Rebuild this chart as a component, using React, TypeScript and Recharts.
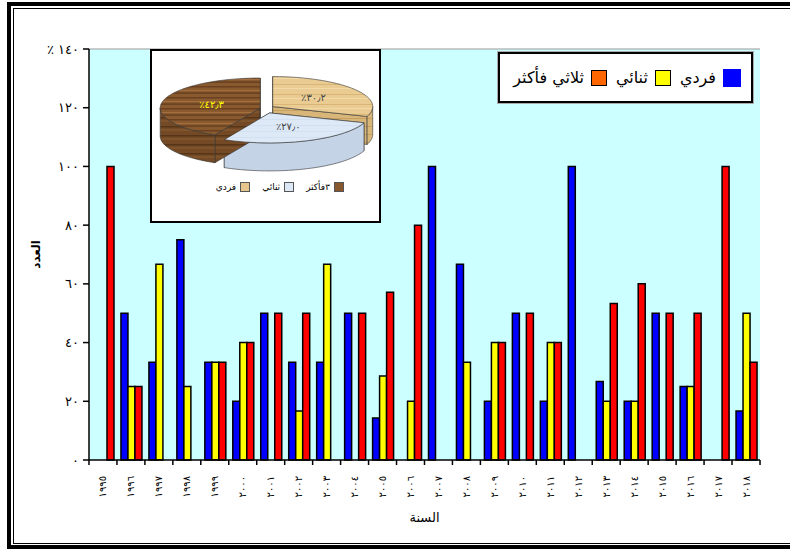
import React from "react";
import { BarChart, Bar, XAxis, YAxis, CartesianGrid, ReferenceLine, PieChart, Pie, Cell } from "recharts";

// years on the x axis
const years = [
  "1995", "1996", "1997", "1998", "1999", "2000", "2001", "2002",
  "2003", "2004", "2005", "2006", "2007", "2008", "2009", "2010",
  "2011", "2012", "2013", "2014", "2015", "2016", "2017", "2018",
];
// % per year
const singleValues = [0, 50, 33.3, 75, 33.3, 20, 50, 33.3, 33.3, 50, 14.3, 0, 100, 66.7, 20, 50, 20, 100, 26.7, 20, 50, 25, 0, 16.7];
const doubleValues = [0, 25, 66.7, 25, 33.3, 40, 0, 16.7, 66.7, 0, 28.6, 20, 0, 33.3, 40, 0, 40, 0, 20, 20, 0, 25, 0, 50];
const tripleValues = [100, 25, 0, 0, 33.3, 40, 50, 50, 0, 50, 57.1, 80, 0, 0, 40, 50, 40, 0, 53.3, 60, 50, 50, 100, 33.3];
const seriesNames = ["فردي", "ثنائي", "ثلاثي فأكثر"];
const yTicks = [0, 20, 40, 60, 80, 100, 120, 140];

// inset pie
const pieNames = ["فردي", "ثنائي", "٣فأكثر"];
const pieShares = [30.2, 27.0, 42.3];

const barColors = ["#0000FF", "#FFFF00", "#FF0000"];
const legendColors = ["#0000FF", "#FFFF00", "#FF6600"];
const pieTopFills = ["url(#woodLight)", "url(#iceTop)", "url(#woodDark)"];
const pieSideFills = ["url(#woodLightSide)", "#C5D3E6", "url(#woodDarkSide)"];
const pieLegendColors = ["#E6C68C", "#DCE8F6", "#875730"];
const pieLabelColors = ["#444444", "#444444", "#FFFF00"];

const FONT = "'DejaVu Sans', sans-serif";
const AR_DIGITS = "٠١٢٣٤٥٦٧٨٩";
const toArabic = (v: number | string) => String(v).replace(/[0-9]/g, (d) => AR_DIGITS[Number(d)]);

const barData = years.map((year, i) => ({
  year,
  single: singleValues[i],
  double: doubleValues[i],
  triple: tripleValues[i],
}));
const pieData = pieNames.map((name, i) => ({ name, value: pieShares[i] }));

// fake 3d pie
const TILT = 0.3;
const DEPTH = 28;
const EXPLODE = 7;
const RAD = Math.PI / 180;

function sliceOrigin(cx: number, cy: number, mid: number) {
  return { ox: cx + EXPLODE * Math.cos(mid * RAD), oy: cy - EXPLODE * 0.6 * Math.sin(mid * RAD) };
}

function rim(ox: number, oy: number, r: number, from: number, to: number, dy = 0) {
  const pts: string[] = [];
  const steps = Math.max(2, Math.ceil(Math.abs(to - from) / 2));
  for (let k = 0; k <= steps; k++) {
    const a = (from + ((to - from) * k) / steps) * RAD;
    pts.push(`${ox + r * Math.cos(a)},${oy - r * TILT * Math.sin(a) + dy}`);
  }
  return pts;
}

function SliceSides(p: any) {
  const mid = (p.startAngle + p.endAngle) / 2;
  const { ox, oy } = sliceOrigin(p.cx, p.cy, mid);
  const r = p.outerRadius;
  const hi = Math.max(p.startAngle, p.endAngle);
  const lo = Math.min(p.startAngle, p.endAngle);
  const faces: any[] = [];
  [hi, lo].forEach((a, k) => {
    const x = ox + r * Math.cos(a * RAD);
    const y = oy - r * TILT * Math.sin(a * RAD);
    faces.push(
      <polygon key={"r" + k} points={`${ox},${oy} ${x},${y} ${x},${y + DEPTH} ${ox},${oy + DEPTH}`}
        fill={p.fill} stroke="#333" strokeWidth={0.6} />
    );
  });
  for (let base = -720; base <= 360; base += 360) {
    const f0 = Math.max(lo, base - 180);
    const f1 = Math.min(hi, base);
    if (f1 > f0) {
      const top = rim(ox, oy, r, f1, f0);
      const bottom = rim(ox, oy, r, f0, f1, DEPTH);
      faces.push(
        <polygon key={"w" + base} points={[...top, ...bottom].join(" ")} fill={p.fill} stroke="#333" strokeWidth={0.6} />
      );
    }
  }
  return <g>{faces}</g>;
}

function SliceTop(p: any) {
  const mid = (p.startAngle + p.endAngle) / 2;
  const { ox, oy } = sliceOrigin(p.cx, p.cy, mid);
  const pts = rim(ox, oy, p.outerRadius, p.startAngle, p.endAngle);
  return <polygon points={[`${ox},${oy}`, ...pts].join(" ")} fill={p.fill} stroke="#333" strokeWidth={0.6} />;
}

function sliceLabel(p: any) {
  const { ox, oy } = sliceOrigin(p.cx, p.cy, p.midAngle);
  const r = p.outerRadius * 0.5;
  const x = ox + r * Math.cos(p.midAngle * RAD);
  const y = oy - r * TILT * Math.sin(p.midAngle * RAD);
  const txt = "٪" + toArabic(Number(p.value).toFixed(1)).replace(".", "٫");
  return (
    <text x={x} y={y} textAnchor="middle" dominantBaseline="central" fontSize={10} fontFamily={FONT}
      fill={pieLabelColors[p.index]}>
      {txt}
    </text>
  );
}

function YearTick(props: any) {
  const { x, y, payload, index } = props;
  const half = 14;
  return (
    <g>
      <line x1={x - half} x2={x - half} y1={y} y2={y + 5} stroke="#000" strokeWidth={1.5} />
      {index === years.length - 1 && <line x1={x + half} x2={x + half} y1={y} y2={y + 5} stroke="#000" strokeWidth={1.5} />}
      <text transform={`translate(${x},${y + 16}) rotate(-90)`} textAnchor="end" dominantBaseline="central"
        fontSize={10} letterSpacing={1.8} fontFamily={FONT} fill="#000">
        {toArabic(payload.value)}
      </text>
    </g>
  );
}

export default function App() {
  return (
    <div style={{ position: "relative", width: 790, height: 549, overflow: "hidden", background: "#fff", fontFamily: FONT }}>
      <style>{`body{margin:0}`}</style>
      <div style={{ position: "absolute", left: 7, top: 2, width: 820, height: 547, border: "4px solid #000", boxSizing: "border-box" }} />
      <div style={{ position: "absolute", left: 13, top: 8, width: 810, height: 536, border: "1px solid #000", boxSizing: "border-box" }} />

      <div style={{ position: "absolute", left: 0, top: 0 }}>
        <BarChart width={790} height={549} data={barData} margin={{ top: 49, right: 30, bottom: 27, left: 0 }}
          barCategoryGap={4} barGap={0}>
          <CartesianGrid fill="#CCFFFF" horizontal={false} vertical={false} />
          <ReferenceLine y={140} stroke="#999" strokeWidth={1} />
          <XAxis dataKey="year" height={62} interval={0} tickLine={false} tickSize={0} tickMargin={0}
            axisLine={{ stroke: "#000", strokeWidth: 1.5 }} tick={<YearTick />}
            label={{ value: "السنة", position: "insideBottom", offset: 0, fontSize: 13, fill: "#000", fontFamily: FONT }} />
          <YAxis width={89} domain={[0, 140]} ticks={yTicks} tickSize={6} tickMargin={4}
            axisLine={{ stroke: "#000", strokeWidth: 1.5 }} tickLine={{ stroke: "#000", strokeWidth: 1.5 }}
            tick={{ fontSize: 13, fill: "#000", fontFamily: FONT }}
            tickFormatter={(v: number) => (v === 140 ? "٪ " : "") + toArabic(v)}
            label={{
              content: ({ viewBox }: any) => (
                <text transform={`translate(${viewBox.x + 36},${viewBox.y + viewBox.height / 2}) rotate(-90)`}
                  textAnchor="middle" dominantBaseline="central" fontSize={12} fontWeight="bold" fontFamily={FONT}>
                  العدد
                </text>
              ),
            }} />
          <YAxis yAxisId="right" orientation="right" width={0} domain={[0, 140]} tick={false} tickLine={false}
            axisLine={{ stroke: "#999", strokeWidth: 1.5 }} />
          <Bar dataKey="single" name={seriesNames[0]} fill={barColors[0]} stroke="#000" strokeWidth={1.5} isAnimationActive={false} />
          <Bar dataKey="double" name={seriesNames[1]} fill={barColors[1]} stroke="#000" strokeWidth={1.5} isAnimationActive={false} />
          <Bar dataKey="triple" name={seriesNames[2]} fill={barColors[2]} stroke="#000" strokeWidth={1.5} isAnimationActive={false} />
        </BarChart>
      </div>

      {/* legend of the bar chart */}
      <div style={{
        position: "absolute", left: 498, top: 52, width: 255, height: 51, background: "#fff",
        border: "2px solid #000", boxShadow: "0 0 0 1px #aaa", boxSizing: "border-box",
        display: "flex", alignItems: "center", direction: "rtl", paddingRight: 10,
      }}>
        {seriesNames.map((name, i) => (
          <div key={name} style={{ display: "flex", alignItems: "center", marginLeft: 9 }}>
            <span style={{
              width: i === 0 ? 18 : 14, height: i === 0 ? 18 : 14, background: legendColors[i],
              border: i === 0 ? "none" : "1.5px solid #000", marginLeft: 7, display: "inline-block",
            }} />
            <span style={{ fontSize: 16, color: "#000", whiteSpace: "nowrap" }}>{name}</span>
          </div>
        ))}
      </div>

      {/* inset pie */}
      <div style={{
        position: "absolute", left: 150, top: 49, width: 231, height: 174, background: "#fff",
        border: "2px solid #000", boxSizing: "border-box",
      }}>
        <PieChart width={227} height={170}>
          <defs>
            <pattern id="woodDark" width="60" height="11" patternUnits="userSpaceOnUse">
              <rect width="60" height="11" fill="#8A5A2F" />
              <rect y="2" width="60" height="1.5" fill="#6A4020" />
              <rect y="6" width="60" height="1" fill="#A46E3E" />
              <rect y="8.5" width="60" height="1.2" fill="#5E391C" />
            </pattern>
            <pattern id="woodDarkSide" width="60" height="9" patternUnits="userSpaceOnUse">
              <rect width="60" height="9" fill="#734A25" />
              <rect y="3" width="60" height="1.5" fill="#573519" />
              <rect y="6.5" width="60" height="1" fill="#8B5C31" />
            </pattern>
            <pattern id="woodLight" width="60" height="10" patternUnits="userSpaceOnUse">
              <rect width="60" height="10" fill="#EACB92" />
              <rect y="3" width="60" height="1" fill="#D9B678" />
              <rect y="7" width="60" height="1" fill="#F2DAA8" />
            </pattern>
            <pattern id="woodLightSide" width="60" height="8" patternUnits="userSpaceOnUse">
              <rect width="60" height="8" fill="#D8B67A" />
              <rect y="3" width="60" height="1" fill="#C7A062" />
            </pattern>
            <pattern id="iceTop" width="20" height="6" patternUnits="userSpaceOnUse">
              <rect width="20" height="6" fill="#DDE9F7" />
              <rect y="2" width="20" height="1" fill="#D2E0F2" />
            </pattern>
          </defs>
          <Pie data={pieData} dataKey="value" nameKey="name" cx={110} cy={53} outerRadius={100}
            startAngle={90} endAngle={-270} stroke="none" shape={SliceSides} isAnimationActive={false}>
            {pieData.map((d, i) => <Cell key={d.name} fill={pieSideFills[i]} />)}
          </Pie>
          <Pie data={pieData} dataKey="value" nameKey="name" cx={110} cy={53} outerRadius={100}
            startAngle={90} endAngle={-270} stroke="none" shape={SliceTop} label={sliceLabel} labelLine={false}
            isAnimationActive={false}>
            {pieData.map((d, i) => <Cell key={d.name} fill={pieTopFills[i]} />)}
          </Pie>
        </PieChart>
        <div style={{
          position: "absolute", top: 131, right: 35, display: "flex", direction: "rtl", alignItems: "center",
        }}>
          {pieNames.slice().reverse().map((name) => {
            const i = pieNames.indexOf(name);
            return (
              <div key={name} style={{ display: "flex", alignItems: "center", marginLeft: 12 }}>
                <span style={{
                  width: 8, height: 8, background: pieLegendColors[i], border: "1px solid #555",
                  marginLeft: 4, display: "inline-block",
                }} />
                <span style={{ fontSize: 9, color: "#000", whiteSpace: "nowrap" }}>{name}</span>
              </div>
            );
          })}
        </div>
      </div>
    </div>
  );
}
